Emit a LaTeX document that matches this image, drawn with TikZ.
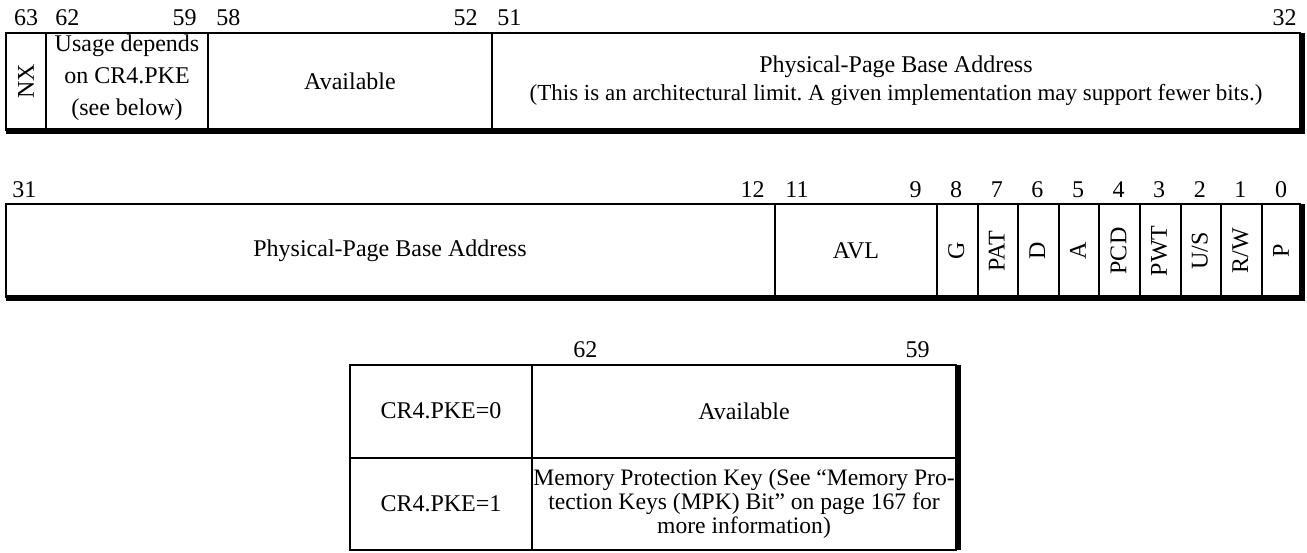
\documentclass[tikz,border=0pt]{standalone}
\usepackage{fontspec}
\setmainfont{Liberation Serif}
\begin{document}
\frenchspacing
\begin{tikzpicture}[x=0.5pt, y=-0.5pt, font=\fontsize{12}{14}\selectfont,
    frame/.style={line width=1pt},
    shadow/.style={line width=3pt},
    bitno/.style={inner sep=0pt},
    vlabel/.style={rotate=90, inner sep=0pt}]
    \useasboundingbox (0,0) rectangle (1307,552);

    % Upper half of the entry, bits 63..32
    \draw[frame] (6,33) rectangle (1300,130);
    \draw[shadow] (6,131) -- (1302,131) -- (1302,33);
    \foreach \x in {46, 208, 492}
        \draw[frame] (\x,33) -- (\x,130);
    \node[bitno] (n63) at (26,18) {63};
    \node[bitno, anchor=west] (n62) at (55,18) {62};
    \node[bitno, anchor=east] (n59) at (197,18) {59};
    \node[bitno, anchor=west] (n58) at (216,18) {58};
    \node[bitno, anchor=east] (n52) at (478,18) {52};
    \node[bitno, anchor=west] (n51) at (497,18) {51};
    \node[bitno, anchor=east] (n32) at (1297,18) {32};
    \node[vlabel] (nx) at (26,81) {NX};
    \node[align=center, font=\fontsize{12}{16}\selectfont] (usage) at (127,78) {Usage depends\\on CR4.PKE\\(see below)};
    \node (avail) at (350,81) {Available};
    \node[align=center] (basehi) at (896,81) {Physical-Page Base Address\\{\fontsize{11.5}{14}\selectfont (This is an architectural limit. A given implementation may support fewer bits.)}};

    % Lower half of the entry, bits 31..0
    \draw[frame] (6,204) rectangle (1300,297);
    \draw[shadow] (6,297.5) -- (1302,297.5) -- (1302,204);
    \foreach \x in {775, 937}
        \draw[frame] (\x,204) -- (\x,297);
    \foreach \k in {1,...,8}
        \draw[frame] (937+40.6*\k,204) -- (937+40.6*\k,297);
    \node[bitno, anchor=west] (n31) at (12,190) {31};
    \node[bitno, anchor=east] (n12) at (765,190) {12};
    \node[bitno, anchor=west] (n11) at (785,190) {11};
    \node[bitno, anchor=east] (n9) at (922,190) {9};
    \foreach \lbl [count=\i from 0] in {P, R/W, U/S, PWT, PCD, A, D, PAT, G} {
        \node[bitno] (num\i) at (1281-40.6*\i,190) {\i};
        \node[vlabel] (bit\i) at (1281-40.6*\i,251) {\lbl};
    }
    \node (baselo) at (390,251) {Physical-Page Base Address};
    \node (avl) at (856,251) {AVL};

    % Meaning of bits 62..59
    \draw[frame] (350,365) rectangle (956,550);
    \draw[shadow] (958,365) -- (958,550);
    \draw[frame] (532,365) -- (532,550);
    \draw[frame] (350,458) -- (956,458);
    \node[bitno, anchor=west] (m62) at (573,350) {62};
    \node[bitno, anchor=east] (m59) at (930,350) {59};
    \node (pke0) at (441,411) {CR4.PKE=0};
    \node (pkeavail) at (744,411) {Available};
    \node (pke1) at (441,504) {CR4.PKE=1};
    \node[align=center, font=\fontsize{11.8}{12}\selectfont] (mpk) at (744,504) {Memory Protection Key (See ``Memory Pro-\\tection Keys (MPK) Bit'' on page 167 for\\more information)};
\end{tikzpicture}
\end{document}
